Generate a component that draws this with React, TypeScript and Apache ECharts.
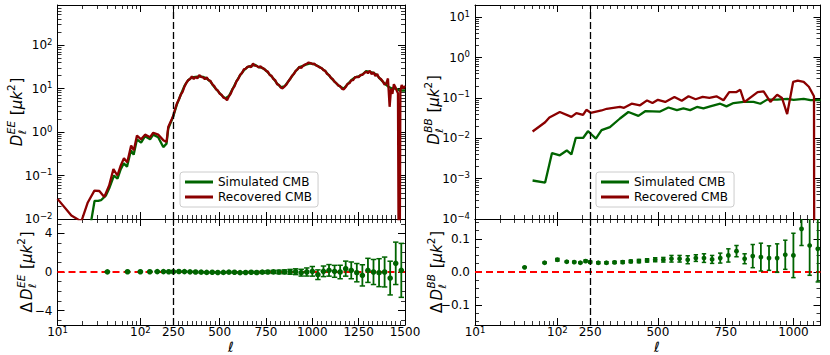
import React, { useEffect, useRef } from "react";
import * as echarts from "echarts";

// ---------------- data ----------------
// EE recovered spectrum
const eeRecEllLow = [10, 14.7, 19.4, 23.2, 27.9, 32, 36.7, 42, 47.3, 52.8, 58, 63.4, 69.4, 77.4, 83.4, 91, 102, 114, 131, 143, 164, 189, 207, 217, 231, 240];
const eeRecValLow = [0.029, 0.012, 0.0088, 0.024, 0.045, 0.044, 0.032, 0.059, 0.14, 0.1, 0.17, 0.25, 0.2, 0.49, 0.38, 0.83, 0.68, 0.87, 0.76, 0.96, 0.87, 0.65, 0.59, 1.3, 1.7, 2.0];
const eeRecEllHigh = [
  250, 260, 270, 280, 290, 300, 310, 320, 330, 340,
  350, 360, 370, 380, 390, 400, 410, 420, 430, 440,
  450, 460, 470, 480, 490, 500, 510, 520, 530, 540,
  550, 560, 570, 580, 590, 600, 610, 620, 630, 640,
  650, 660, 670, 680, 690, 700, 710, 720, 730, 740,
  750, 760, 770, 780, 790, 800, 810, 820, 830, 840,
  850, 860, 870, 880, 890, 900, 910, 920, 930, 940,
  950, 960, 970, 980, 990, 1000, 1010, 1020, 1030, 1040,
  1050, 1060, 1070, 1080, 1090, 1100, 1110, 1120, 1130, 1140,
  1150, 1160, 1170, 1180, 1190, 1200, 1210, 1220, 1230, 1240,
  1250, 1260, 1270, 1280, 1290, 1300, 1310, 1320, 1330, 1340,
  1350, 1360, 1370, 1380, 1390, 1400,
];
const eeRecValHigh = [
  2.4, 3.4, 4.6, 5.6, 7.2, 8.4, 11, 13.5, 15.5, 16.5,
  19, 16.5, 18.5, 17, 20.5, 18.5, 18, 16.5, 18, 15.5,
  15, 12.5, 11.5, 9.6, 9, 7.6, 7.2, 6.2, 6, 5.4,
  6.6, 7.6, 9.8, 11.2, 14.5, 16.5, 20.5, 22.5, 27.5, 28.5,
  31.5, 32.5, 31, 37.5, 33.5, 33, 30.5, 32.5, 29.5, 28.5,
  25.5, 24.5, 20.5, 19.5, 16.5, 15.5, 12.5, 12.2, 10.4, 10.1,
  11.2, 12.3, 14.5, 16.5, 19.5, 21.5, 25.5, 27.5, 31.5, 29.5,
  33.5, 35.5, 37, 39.5, 38.5, 36.5, 37.5, 34, 32.5, 30.5,
  29.5, 26.5, 25.5, 21.5, 20.5, 17.5, 16.5, 14.2, 13.3, 11.7,
  11.3, 9.8, 9.6, 10.8, 12.8, 13.2, 15.4, 15.6, 18, 18.6,
  18.2, 20.5, 20.6, 22.5, 24.5, 22.5, 25.5, 21.5, 23.5, 19.5,
  21.5, 17.5, 16.5, 14.5, 12.2, 13.5,
];
const eeRecEllTail = [1408, 1417, 1425, 1432, 1440, 1447, 1455, 1462, 1469, 1475, 1482, 1490, 1500];
const eeRecValTail = [17, 3.8, 10, 7.5, 12.5, 11, 9, 7.8, 0.000001, 9, 12, 10, 11.5];

// EE simulated spectrum
const eeSimEll = [
  24, 25.5, 28, 31, 33.5, 38.5, 42, 48, 53, 58,
  63, 69, 77, 83, 91, 102, 114, 131, 143, 164,
  189, 207, 217, 231,
  250, 270, 290, 310, 330, 350, 370, 390, 410, 430,
  450, 470, 490, 510, 530, 550, 570, 590, 610, 630,
  650, 670, 690, 710, 730, 750, 770, 790, 810, 830,
  850, 870, 890, 910, 930, 950, 970, 990, 1010, 1030,
  1050, 1070, 1090, 1110, 1130, 1150, 1170, 1190, 1210, 1230,
  1250, 1270, 1290, 1310, 1330, 1350, 1370, 1390, 1410, 1430,
  1450, 1470, 1490, 1500,
];
const eeSimVal = [
  0.006, 0.009, 0.026, 0.026, 0.027, 0.035, 0.05, 0.1, 0.085, 0.14,
  0.19, 0.16, 0.38, 0.3, 0.68, 0.57, 0.8, 0.68, 0.87, 0.76,
  0.45, 0.54, 1.2, 1.6,
  2.3, 4.4, 7.2, 11.5, 15.5, 18, 18.5, 19, 18.5, 17,
  14.5, 11, 8.8, 7, 5.9, 6.7, 9.8, 14.5, 20, 26,
  31, 33, 35, 31, 30, 26, 21, 17, 13, 10.8,
  11.2, 14.5, 19, 25, 31, 33, 36, 38, 36, 33,
  29, 25, 20, 16, 13, 11, 10, 12.5, 15.5, 18,
  19, 21, 25, 24, 23, 20, 16, 13, 11, 10,
  10, 9, 9, 9,
];

// BB spectra
const bbSimEll = [50, 71, 86, 107, 130, 148, 167, 205, 235, 252, 271, 292, 323, 360, 391, 428, 453, 508, 539, 570, 594, 619, 644, 668, 693, 730, 753, 779, 816, 853, 878, 903, 940, 977, 1001, 1038, 1063, 1100];
const bbSimVal = [0.0009, 0.0008, 0.0043, 0.0038, 0.005, 0.004, 0.0102, 0.0102, 0.015, 0.013, 0.0098, 0.016, 0.019, 0.031, 0.045, 0.036, 0.047, 0.046, 0.058, 0.05, 0.055, 0.05, 0.06, 0.055, 0.062, 0.072, 0.062, 0.075, 0.08, 0.08, 0.072, 0.091, 0.091, 0.095, 0.09, 0.095, 0.088, 0.088];
const bbRecEll = [50, 71, 80, 107, 148, 170, 205, 225, 252, 292, 311, 360, 375, 403, 434, 460, 480, 500, 527, 561, 588, 613, 639, 665, 690, 716, 742, 763, 790, 804, 819, 868, 890, 915, 940, 958, 977, 999, 1016, 1038, 1057, 1076, 1077];
const bbRecVal = [0.0148, 0.025, 0.033, 0.045, 0.034, 0.042, 0.038, 0.051, 0.043, 0.049, 0.054, 0.06, 0.057, 0.072, 0.066, 0.087, 0.075, 0.09, 0.08, 0.106, 0.085, 0.11, 0.093, 0.106, 0.1, 0.11, 0.088, 0.14, 0.14, 0.16, 0.079, 0.14, 0.145, 0.08, 0.12, 0.1, 0.04, 0.25, 0.27, 0.25, 0.19, 0.11, 0.000001];

// residuals (binned, with error bars)
const eeResEll = [40, 70, 100, 130, 160, 190, 220, 250, 280, 310, 340, 370, 400, 430, 460, 490, 520, 550, 580, 610, 640, 670, 700, 730, 760, 790, 820, 850, 880, 910, 940, 970, 1000, 1030, 1060, 1090, 1120, 1150, 1180, 1210, 1240, 1270, 1300, 1330, 1360, 1390, 1420, 1450, 1480];
const eeResVal = [0.02, 0.03, 0.03, 0.03, 0.04, 0.04, 0.03, 0.03, 0.05, 0.04, 0.02, 0.0, -0.02, -0.04, -0.03, -0.05, -0.04, -0.02, -0.03, -0.06, -0.05, -0.03, -0.05, -0.02, 0.0, 0.01, 0.0, 0.02, 0.02, 0.03, -0.07, 0.0, 0.07, -0.28, 0.07, 0.17, 0.07, 0.0, 0.35, 0.17, -0.07, -0.35, 0.17, 0.0, -0.07, 0.0, -0.63, 0.9, 0.17];
const eeResErr = [0.03, 0.03, 0.03, 0.03, 0.04, 0.04, 0.04, 0.05, 0.05, 0.05, 0.05, 0.05, 0.06, 0.06, 0.06, 0.06, 0.07, 0.07, 0.07, 0.08, 0.08, 0.09, 0.1, 0.12, 0.14, 0.16, 0.18, 0.2, 0.25, 0.3, 0.35, 0.42, 0.5, 0.5, 0.55, 0.6, 0.62, 0.7, 0.78, 0.87, 0.95, 1.1, 1.25, 1.3, 1.45, 1.55, 1.75, 2.2, 2.8];
const bbResEll = [40, 70, 100, 130, 160, 190, 220, 250, 280, 310, 340, 370, 400, 430, 460, 490, 520, 550, 580, 610, 640, 670, 700, 730, 760, 790, 820, 850, 880, 910, 940, 970, 1000, 1030, 1060, 1090];
const bbResVal = [0.014, 0.028, 0.037, 0.031, 0.03, 0.028, 0.033, 0.03, 0.028, 0.028, 0.029, 0.03, 0.032, 0.033, 0.035, 0.037, 0.037, 0.04, 0.04, 0.037, 0.042, 0.042, 0.038, 0.042, 0.05, 0.063, 0.04, 0.048, 0.045, 0.042, 0.042, 0.052, 0.05, 0.13, 0.08, 0.07];
const bbResErr = [0.001, 0.002, 0.004, 0.002, 0.002, 0.002, 0.003, 0.003, 0.003, 0.003, 0.003, 0.004, 0.004, 0.005, 0.005, 0.006, 0.007, 0.01, 0.01, 0.012, 0.01, 0.013, 0.012, 0.015, 0.02, 0.017, 0.015, 0.035, 0.042, 0.037, 0.043, 0.044, 0.067, 0.05, 0.09, 0.1];

// axis ticks
const xMajorLeft = [10, 100, 250, 500, 750, 1000, 1250, 1500];
const xMajorLeftLabels = ["10^1", "10^2", "250", "500", "750", "1000", "1250", "1500"];
const xMajorRight = [10, 100, 250, 500, 750, 1000];
const xMajorRightLabels = ["10^1", "10^2", "250", "500", "750", "1000"];
const xMinorLog = [20, 30, 40, 50, 60, 70, 80, 90, 200];
const eeYDecades = [-2, -1, 0, 1, 2];
const bbYDecades = [-4, -3, -2, -1, 0, 1];
const eeResTicks = [-4, 0, 4];
const eeResMinor = [-5, -3, -2, -1, 1, 2, 3, 5];
const bbResTicks = [-0.1, 0, 0.1];
const bbResMinor = [-0.15, -0.125, -0.075, -0.05, -0.025, 0.025, 0.05, 0.075, 0.125, 0.15];

// ---------------- styling / layout ----------------
const GREEN = "#006400";
const DARKRED = "#8b0000";
const FONT = "DejaVu Sans";
const SPLIT = 250;
const LMAX_LEFT = 1500;
const LMAX_RIGHT = 1100;

const gridsLayout = [
  { left: 57.5, top: 5, width: 347.5, height: 214 },
  { left: 57.5, top: 219, width: 347.5, height: 106 },
  { left: 475, top: 5, width: 345.5, height: 214 },
  { left: 475, top: 219, width: 345.5, height: 106 },
];

function makeU(lmax: number) {
  return (l: number) =>
    l <= SPLIT ? Math.log10(l / 10) / Math.log10(SPLIT / 10) : 1 + (2 * (l - SPLIT)) / (lmax - SPLIT);
}

function linearMinors(lmax: number) {
  const out: number[] = [];
  for (let l = SPLIT + 25; l <= lmax + 1e-9; l += 25) if (l % 250 !== 0) out.push(l);
  return out;
}

function logMinors(decades: number[], maxLog: number) {
  const out: number[] = [];
  for (const d of decades) for (let k = 2; k <= 9; k++) {
    const v = d + Math.log10(k);
    if (v <= maxLog) out.push(v);
  }
  return out;
}

const richY = {
  n: { fontSize: 12, fontFamily: FONT, color: "#000", lineHeight: 16 },
  s: { fontSize: 8.5, fontFamily: FONT, color: "#000", lineHeight: 8, verticalAlign: "top" },
};
const richX = {
  n: { fontSize: 12, fontFamily: FONT, color: "#000", lineHeight: 13 },
  s: { fontSize: 8.5, fontFamily: FONT, color: "#000", lineHeight: 5, verticalAlign: "top" },
};

function fmtPow(lbl: string) {
  const i = lbl.indexOf("^");
  if (i < 0) return `{n|${lbl}}`;
  return `{n|${lbl.slice(0, i)}}{s|${lbl.slice(i + 1)}}`;
}

function axisBase(g: number, pos: string, min: number, max: number, ticks: number[], len: number, line: boolean, label: any) {
  return {
    type: "value",
    gridIndex: g,
    position: pos,
    min,
    max,
    silent: true,
    splitLine: { show: false },
    axisLine: { show: line, onZero: false, lineStyle: { color: "#000", width: 1 } },
    axisTick: { show: true, inside: true, length: len, customValues: ticks, lineStyle: { color: "#000", width: len > 5 ? 1 : 0.8 } },
    axisLabel: label ? label : { show: false },
    axisPointer: { show: false },
  };
}

function xAxesFor(g: number, lmax: number, majorsEll: number[], labels: string[], showLabels: boolean) {
  const u = makeU(lmax);
  const majors = majorsEll.map(u);
  const minors = xMinorLog.concat(linearMinors(lmax)).map(u);
  const label = showLabels
    ? {
        show: true,
        customValues: majors,
        margin: 0,
        showMinLabel: true,
        showMaxLabel: true,
        rich: richX,
        formatter: (v: number) => {
          let best = 0;
          majors.forEach((m, i) => { if (Math.abs(m - v) < Math.abs(majors[best] - v)) best = i; });
          return fmtPow(labels[best]);
        },
      }
    : null;
  return [
    axisBase(g, "bottom", 0, 3, majors, 7, true, label),
    axisBase(g, "bottom", 0, 3, minors, 4, false, null),
    axisBase(g, "top", 0, 3, majors, 7, true, null),
    axisBase(g, "top", 0, 3, minors, 4, false, null),
  ];
}

function yAxesFor(g: number, min: number, max: number, majors: number[], minors: number[], fmt: (v: number) => string) {
  const label = {
    show: true,
    customValues: majors,
    margin: 5,
    showMinLabel: true,
    showMaxLabel: true,
    rich: richY,
    formatter: fmt,
  };
  return [
    axisBase(g, "left", min, max, majors, 7, true, label),
    axisBase(g, "left", min, max, minors, 4, false, null),
    axisBase(g, "right", min, max, majors, 7, true, null),
    axisBase(g, "right", min, max, minors, 4, false, null),
  ];
}

const minus = (s: string) => s.replace("-", "\u2212");
const logFmt = (v: number) => `{n|10}{s|${minus(String(Math.round(v)))}}`;
const eeResFmt = (v: number) => `{n|${minus(String(Math.round(v)))}}`;
const bbResFmt = (v: number) => `{n|${minus(v.toFixed(1))}}`;

function lineData(ell: number[], val: number[], lmax: number) {
  const u = makeU(lmax);
  return ell.map((l, i) => [u(l), Math.log10(val[i])]);
}
function resData(ell: number[], val: number[], err: number[], lmax: number) {
  const u = makeU(lmax);
  return ell.map((l, i) => [u(l), val[i], err[i]]);
}

const vline = {
  silent: true,
  symbol: ["none", "none"],
  label: { show: false },
  lineStyle: { color: "#000", type: [7, 3], width: 1.3 },
  data: [{ xAxis: 1 }],
};

function errorSeries(axisIdx: number, data: number[][], cap: number, r: number) {
  return {
    type: "custom",
    xAxisIndex: axisIdx,
    yAxisIndex: axisIdx,
    z: 4,
    silent: true,
    data,
    renderItem: (params: any, api: any) => {
      const u = api.value(0);
      const v = api.value(1);
      const e = api.value(2);
      const cs = params.coordSys;
      const c = api.coord([u, v]);
      const t = api.coord([u, v + e]);
      const b = api.coord([u, v - e]);
      const yTop = cs.y;
      const yBot = cs.y + cs.height;
      const cl = (y: number) => Math.max(yTop, Math.min(yBot, y));
      const children: any[] = [
        { type: "line", shape: { x1: c[0], y1: cl(t[1]), x2: c[0], y2: cl(b[1]) }, style: { stroke: GREEN, lineWidth: 1.8 } },
      ];
      if (t[1] >= yTop) children.push({ type: "line", shape: { x1: c[0] - cap, y1: t[1], x2: c[0] + cap, y2: t[1] }, style: { stroke: GREEN, lineWidth: 1.5 } });
      if (b[1] <= yBot) children.push({ type: "line", shape: { x1: c[0] - cap, y1: b[1], x2: c[0] + cap, y2: b[1] }, style: { stroke: GREEN, lineWidth: 1.5 } });
      if (c[1] >= yTop && c[1] <= yBot) children.push({ type: "circle", shape: { cx: c[0], cy: c[1], r }, style: { fill: GREEN } });
      return { type: "group", children };
    },
  };
}

const charW: Record<string, number> = { D: 0.77, E: 0.632, B: 0.686, Δ: 0.837, "[": 0.39, "]": 0.39, μ: 0.636, k: 0.579, "2": 0.636, " ": 0.318 };

function txt(text: string, x: number, y: number, size: number, italic: boolean) {
  return {
    type: "text",
    x,
    y,
    style: { text, fontSize: size, fontFamily: FONT, fontStyle: italic ? "italic" : "normal", fill: "#000", align: "left", verticalAlign: "middle" },
  };
}

function yLabel(cx: number, cy: number, delta: boolean, sup: string) {
  const fs = 15;
  const ss = 10.5;
  const parts: any[] = [];
  let x = 0;
  if (delta) { parts.push(txt("Δ", x, 0, fs, false)); x += charW["Δ"] * fs; }
  parts.push(txt("D", x, 0, fs, true));
  x += charW.D * fs + 0.5;
  parts.push(txt(sup, x, -6, ss, true));
  parts.push(txt("ℓ", x, 4.5, ss, true));
  x += (charW[sup[0]] + charW[sup[1]]) * ss + charW[" "] * fs + 1;
  parts.push(txt("[", x, 0, fs, false)); x += charW["["] * fs;
  parts.push(txt("μk", x, 0, fs, true)); x += (charW["μ"] + charW.k) * fs;
  parts.push(txt("2", x, -6, ss, false)); x += charW["2"] * ss + 0.8;
  parts.push(txt("]", x, 0, fs, false)); x += charW["]"] * fs;
  return { type: "group", x: cx, y: cy + x / 2, rotation: Math.PI / 2, children: parts, silent: true };
}

function ellLabel(x: number) {
  return {
    type: "text",
    x,
    y: 347,
    silent: true,
    style: { text: "ℓ", fontSize: 14, lineHeight: 10, fontFamily: FONT, fontStyle: "italic", fill: "#000", align: "center", verticalAlign: "middle" },
  };
}

function legendAt(left: number) {
  return {
    show: true,
    orient: "vertical",
    left,
    top: 172,
    data: ["Simulated CMB", "Recovered CMB"],
    icon: "rect",
    itemWidth: 28,
    itemHeight: 3,
    itemGap: 3,
    padding: [4, 6, 4, 5],
    backgroundColor: "rgba(255,255,255,0.85)",
    borderColor: "#cccccc",
    borderWidth: 1,
    borderRadius: 3,
    selectedMode: false,
    textStyle: { fontFamily: FONT, fontSize: 12, color: "#000" },
  };
}

export default function App() {
  const ref = useRef<HTMLDivElement>(null);
  useEffect(() => {
    if (!ref.current) return;
    const chart = echarts.init(ref.current, null, { renderer: "svg" });

    const eeRecEll = eeRecEllLow.concat(eeRecEllHigh, eeRecEllTail);
    const eeRecVal = eeRecValLow.concat(eeRecValHigh, eeRecValTail);

    const eeTopMax = 2.92;
    const bbTopMax = 1.305;

    const xAxis = [
      ...xAxesFor(0, LMAX_LEFT, xMajorLeft, xMajorLeftLabels, false),
      ...xAxesFor(1, LMAX_LEFT, xMajorLeft, xMajorLeftLabels, true),
      ...xAxesFor(2, LMAX_RIGHT, xMajorRight, xMajorRightLabels, false),
      ...xAxesFor(3, LMAX_RIGHT, xMajorRight, xMajorRightLabels, true),
    ];
    const yAxis = [
      ...yAxesFor(0, -2, eeTopMax, eeYDecades, logMinors(eeYDecades, eeTopMax), logFmt),
      ...yAxesFor(1, -5.5, 5.5, eeResTicks, eeResMinor, eeResFmt),
      ...yAxesFor(2, -4, bbTopMax, bbYDecades, logMinors(bbYDecades, bbTopMax), logFmt),
      ...yAxesFor(3, -0.16, 0.16, bbResTicks, bbResMinor, bbResFmt),
    ];

    const lineSeries = (name: string, idx: number, data: number[][], color: string, z: number, extra: any = {}) => ({
      type: "line",
      name,
      xAxisIndex: idx,
      yAxisIndex: idx,
      data,
      color,
      symbol: "none",
      showSymbol: false,
      clip: true,
      z,
      silent: true,
      lineStyle: { width: 2.3, color },
      ...extra,
    });

    const zeroLine = (idx: number) => ({
      type: "line",
      xAxisIndex: idx,
      yAxisIndex: idx,
      data: [[0, 0], [3, 0]],
      symbol: "none",
      silent: true,
      z: 1,
      lineStyle: { color: "#ff0000", type: [7, 4], width: 1.8 },
      markLine: vline,
    });

    const option: any = {
      animation: false,
      textStyle: { fontFamily: FONT },
      grid: gridsLayout.map((g) => ({ ...g, containLabel: false })),
      xAxis,
      yAxis,
      legend: [legendAt(180), legendAt(596)],
      series: [
        lineSeries("Simulated CMB", 0, lineData(eeSimEll, eeSimVal, LMAX_LEFT), GREEN, 2),
        lineSeries("Recovered CMB", 0, lineData(eeRecEll, eeRecVal, LMAX_LEFT), DARKRED, 3, { markLine: vline }),
        zeroLine(4),
        errorSeries(4, resData(eeResEll, eeResVal, eeResErr, LMAX_LEFT), 2.7, 2.8),
        lineSeries("Simulated CMB", 8, lineData(bbSimEll, bbSimVal, LMAX_RIGHT), GREEN, 2),
        lineSeries("Recovered CMB", 8, lineData(bbRecEll, bbRecVal, LMAX_RIGHT), DARKRED, 3, { markLine: vline }),
        zeroLine(12),
        errorSeries(12, resData(bbResEll, bbResVal, bbResErr, LMAX_RIGHT), 2.2, 2.4),
      ],
      graphic: [
        yLabel(17, 112, false, "EE"),
        yLabel(27, 272, true, "EE"),
        yLabel(434, 110, false, "BB"),
        yLabel(437, 272, true, "BB"),
        ellLabel(231),
        ellLabel(657),
      ],
    };
    chart.setOption(option);
    return () => chart.dispose();
  }, []);
  return <div ref={ref} style={{ position: "fixed", left: 0, top: 0, width: 830, height: 355, background: "#fff" }} />;
}
